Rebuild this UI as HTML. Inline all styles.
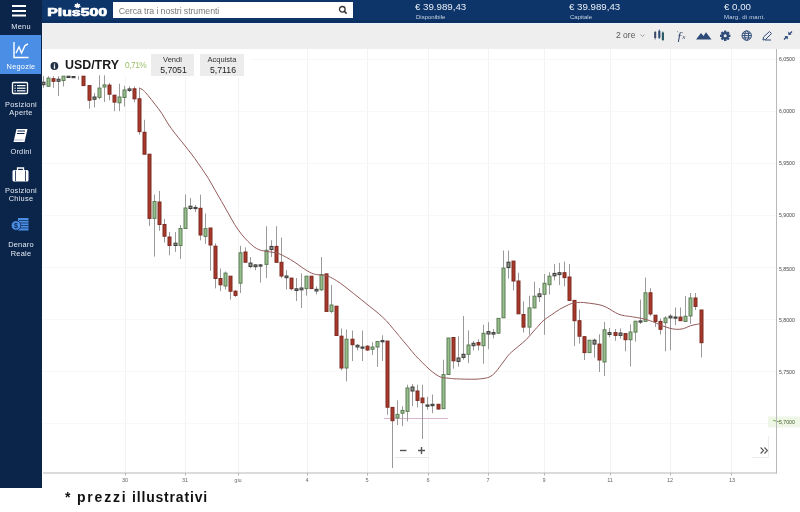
<!DOCTYPE html>
<html><head><meta charset="utf-8">
<style>
*{margin:0;padding:0;box-sizing:border-box}
html,body{width:800px;height:512px;overflow:hidden;background:#fff;font-family:"Liberation Sans",sans-serif;-webkit-font-smoothing:antialiased}
.abs,.sl,.amt,.amtl,.ylab,.xlab{will-change:transform}
.abs{position:absolute}
#side{left:0;top:0;width:42px;height:488px;background:#0b254a}
#side .menu{left:0;top:0;width:42px;height:35px;background:#0b2449}
#side .act{left:0;top:35px;width:41px;height:39px;background:#4b8ee6}
.sl{position:absolute;left:0;width:42px;text-align:center;color:#e4eaf3;font-size:7.4px;line-height:8px;letter-spacing:0.25px}
#top{left:42px;top:0;width:758px;height:23px;background:#0d3569;border-bottom:3px solid #0a2f60}
#search{left:113px;top:2px;width:240px;height:16px;background:#fff}
#search span{position:absolute;left:5.8px;top:3.5px;font-size:8.8px;color:#7a7a7a;letter-spacing:-0.1px}
.amt{position:absolute;color:#e8eef7;font-size:9.7px;line-height:10px}
.amtl{position:absolute;color:#c9d4e6;font-size:6px;line-height:6px}
#tool{left:42px;top:23px;width:758px;height:25.5px;background:#eeeeee;border-top:1px solid #eaf3fb}
.ylab{position:absolute;left:779px;font-size:5.2px;color:#444;line-height:6px}
.xlab{position:absolute;top:477px;font-size:5.5px;color:#666;line-height:6px;transform:translateX(-50%)}
</style></head><body>
<div id="side" class="abs">
  <div class="abs menu"></div>
  <div class="abs act"></div>
  <svg class="abs" style="left:0;top:0" width="42" height="270" viewBox="0 0 42 270">
    <g fill="#ffffff">
      <rect x="12" y="5" width="14" height="2"/>
      <rect x="12" y="10" width="14" height="2"/>
      <rect x="12" y="14.5" width="14" height="2"/>
    </g>
    <!-- chart icon -->
    <g stroke="#ffffff" fill="none" stroke-width="1.4">
      <path d="M14,42 V57.5 H28.5"/>
      <path d="M16,53 L19,47 L21.5,53 L25,45.5 L28,44"/>
    </g>
    <!-- positions icon -->
    <g stroke="#ffffff" fill="none" stroke-width="1.3">
      <rect x="12.5" y="82.5" width="15" height="11" rx="1"/>
    </g>
    <g fill="#ffffff">
      <rect x="14.5" y="85" width="1.2" height="1.2"/><rect x="17" y="85" width="8.5" height="1.2"/>
      <rect x="14.5" y="87.6" width="1.2" height="1.2"/><rect x="17" y="87.6" width="8.5" height="1.2"/>
      <rect x="14.5" y="90.2" width="1.2" height="1.2"/><rect x="17" y="90.2" width="8.5" height="1.2"/>
    </g>
    <!-- book icon -->
    <path d="M16.5,129 L27.5,129 L24.5,142 L13.5,142 Z" fill="#ffffff"/>
    <path d="M17.5,131 L25,131 M17,133.5 L24.5,133.5" stroke="#0b254a" stroke-width="1"/>
    <path d="M14,140 L23.5,140" stroke="#9aa6b8" stroke-width="0.8"/>
    <!-- briefcase -->
    <rect x="12.5" y="170" width="16" height="11.5" rx="1.5" fill="#ffffff"/>
    <path d="M17.5,170 V168 H23.5 V170" stroke="#ffffff" stroke-width="1.3" fill="none"/>
    <path d="M15.5,170.5 V181 M25.5,170.5 V181" stroke="#0b254a" stroke-width="0.8"/>
    <!-- money -->
    <rect x="18" y="218" width="10.5" height="12.5" fill="#4b8ee6"/>
    <g stroke="#0b254a" stroke-width="0.7">
      <path d="M19,220.5 H28.5 M19,223 H28.5 M19,225.5 H28.5 M19,228 H28.5"/>
    </g>
    <circle cx="16" cy="225.5" r="4.8" fill="#4b8ee6" stroke="#0b254a" stroke-width="0.8"/>
    <text x="16" y="228" font-size="7" font-weight="bold" fill="#0b254a" text-anchor="middle" font-family="Liberation Sans">$</text>
  </svg>
  <div class="sl" style="top:23px">Menu</div>
  <div class="sl" style="top:62.6px;color:#fff">Negozie</div>
  <div class="sl" style="top:100.6px">Posizioni</div>
  <div class="sl" style="top:108.6px">Aperte</div>
  <div class="sl" style="top:147.6px">Ordini</div>
  <div class="sl" style="top:186.6px">Posizioni</div>
  <div class="sl" style="top:194.6px">Chiuse</div>
  <div class="sl" style="top:240.6px">Denaro</div>
  <div class="sl" style="top:249.6px">Reale</div>
</div>

<div id="top" class="abs"></div>
<svg class="abs" style="left:0;top:0" width="112" height="22" viewBox="0 0 112 22">
  <text x="47.2" y="16.3" font-size="11.2" font-weight="bold" fill="#ffffff" font-family="Liberation Sans" textLength="60" lengthAdjust="spacingAndGlyphs" stroke="#ffffff" stroke-width="0.7">Plus500</text>
  <path d="M77.4,2.6 L78.4,4.2 L80.3,3.7 L79.6,5.4 L81.2,6.3 L79.2,6.9 L79,8.3 L77.4,7.4 L75.8,8.3 L75.6,6.9 L73.6,6.3 L75.2,5.4 L74.5,3.7 L76.4,4.2 Z" fill="#ffffff"/>
</svg>
<div id="search" class="abs"><span>Cerca tra i nostri strumenti</span>
  <svg class="abs" style="left:225px;top:3px" width="10" height="10" viewBox="0 0 10 10">
    <circle cx="4.3" cy="4.3" r="2.8" fill="none" stroke="#333" stroke-width="1.3"/>
    <path d="M6.3,6.3 L8.6,8.6" stroke="#333" stroke-width="1.6"/>
  </svg>
</div>
<div class="amt" style="left:415.3px;top:2.3px">€ 39.989,43</div>
<div class="amtl" style="left:415.5px;top:13.5px">Disponibile</div>
<div class="amt" style="left:569.3px;top:2.3px">€ 39.989,43</div>
<div class="amtl" style="left:569.5px;top:13.5px">Capitale</div>
<div class="amt" style="left:724px;top:2.3px">€ 0,00</div>
<div class="amtl" style="left:724px;top:13.5px;letter-spacing:0.2px">Marg. di mant.</div>

<div id="tool" class="abs"></div>
<div class="abs" style="left:616px;top:31px;font-size:8.5px;color:#555;line-height:9px">2 ore</div>
<svg class="abs" style="left:0;top:0" width="800" height="50" viewBox="0 0 800 50">
  <path d="M640.5,34.5 L642.5,36.5 L644.5,34.5" stroke="#888" fill="none" stroke-width="0.8"/>
  <g stroke-width="0.8">
    <line x1="655.2" y1="31" x2="655.2" y2="39.5" stroke="#4a5670"/>
    <rect x="654.2" y="32" width="2" height="6" fill="#3d4a66"/>
    <line x1="659.3" y1="29.5" x2="659.3" y2="39" stroke="#2d4a78"/>
    <rect x="658.3" y="30.8" width="2.1" height="7" fill="#2d4a78"/>
    <line x1="662.9" y1="31.5" x2="662.9" y2="41" stroke="#2c5d66"/>
    <rect x="661.8" y="32.5" width="2.2" height="7.5" fill="#2c5d66"/>
  </g>
  <text x="676.5" y="39.6" font-size="13" font-style="italic" font-family="Liberation Serif" fill="#34476a">ƒ</text>
  <text x="682.3" y="38.6" font-size="7" font-style="italic" font-family="Liberation Serif" fill="#34476a">x</text>
  <path d="M677.3,31 L677.8,32.3" stroke="#8a94a8" stroke-width="0.8"/>
  <path d="M696,39.5 L701,33 L703.5,36 L706,32.3 L711.5,39.5 Z" fill="#2d4a78"/>
  <g transform="translate(725.2,35.8)" fill="#2d4a78">
    <circle r="3.8"/>
    <g id="teeth">
      <rect x="-1.2" y="-5.2" width="2.4" height="2"/>
      <rect x="-1.2" y="3.2" width="2.4" height="2"/>
      <rect x="-5.2" y="-1.2" width="2" height="2.4"/>
      <rect x="3.2" y="-1.2" width="2" height="2.4"/>
    </g>
    <g transform="rotate(45)">
      <rect x="-1.2" y="-5.2" width="2.4" height="2"/>
      <rect x="-1.2" y="3.2" width="2.4" height="2"/>
      <rect x="-5.2" y="-1.2" width="2" height="2.4"/>
      <rect x="3.2" y="-1.2" width="2" height="2.4"/>
    </g>
    <circle r="1.5" fill="#eeeeee"/>
  </g>
  <g transform="translate(746.7,35.6)" fill="none" stroke="#2d4a78" stroke-width="1">
    <circle r="4.7"/>
    <ellipse rx="2" ry="4.7"/>
    <path d="M-4.7,0 H4.7 M-4,-2.3 H4 M-4,2.3 H4"/>
  </g>
  <g fill="none" stroke="#2d4a78" stroke-width="1">
    <path d="M763,40 L763.5,37 L769.5,31.5 L771.5,33.5 L765.5,39.5 Z"/>
    <path d="M765,40 H771"/>
  </g>
  <g stroke="#2d4a78" stroke-width="1.3" fill="#2d4a78">
    <path d="M784,39.5 L787,36.5" /><path d="M785,36.5 H787.5 V39" stroke-width="0" />
    <path d="M784.5,36.3 L787.7,36.3 L787.7,39.5 Z" stroke="none"/>
    <path d="M792,31.5 L789,34.5"/>
    <path d="M788.3,31.5 L788.3,34.7 L791.5,34.7 Z" stroke="none"/>
  </g>
</svg>

<!-- chart -->
<svg class="abs" style="left:0;top:0" width="800" height="512" viewBox="0 0 800 512">
<g stroke="#f3f3f3" stroke-width="1"><line x1="125.5" y1="49" x2="125.5" y2="473" /><line x1="185.5" y1="49" x2="185.5" y2="473" /><line x1="238.5" y1="49" x2="238.5" y2="473" /><line x1="307.5" y1="49" x2="307.5" y2="473" /><line x1="367.5" y1="49" x2="367.5" y2="473" /><line x1="428.5" y1="49" x2="428.5" y2="473" /><line x1="488.5" y1="49" x2="488.5" y2="473" /><line x1="544.5" y1="49" x2="544.5" y2="473" /><line x1="610.5" y1="49" x2="610.5" y2="473" /><line x1="670.5" y1="49" x2="670.5" y2="473" /><line x1="731.5" y1="49" x2="731.5" y2="473" /><line x1="42" y1="59.5" x2="776" y2="59.5" stroke="#f8f8f8"/><line x1="42" y1="111.5" x2="776" y2="111.5" stroke="#f8f8f8"/><line x1="42" y1="163.5" x2="776" y2="163.5" stroke="#f8f8f8"/><line x1="42" y1="215.5" x2="776" y2="215.5" stroke="#f8f8f8"/><line x1="42" y1="267.5" x2="776" y2="267.5" stroke="#f8f8f8"/><line x1="42" y1="319.5" x2="776" y2="319.5" stroke="#f8f8f8"/><line x1="42" y1="371.5" x2="776" y2="371.5" stroke="#f8f8f8"/><line x1="42" y1="423.5" x2="776" y2="423.5" stroke="#f8f8f8"/></g>
<rect x="42" y="49" width="208" height="28" fill="#ffffff"/>
<line x1="384" y1="418.5" x2="448" y2="418.5" stroke="#dab4ca" stroke-width="1"/>
<g stroke="#9a9a9a" stroke-width="1"><line x1="43.5" y1="76.2" x2="43.5" y2="87.8"/><line x1="48.5" y1="76.2" x2="48.5" y2="86.5"/><line x1="53.5" y1="76.2" x2="53.5" y2="87.8"/><line x1="58.5" y1="76.2" x2="58.5" y2="96.0"/><line x1="63.5" y1="76.0" x2="63.5" y2="86.5"/><line x1="68.5" y1="76.0" x2="68.5" y2="78.0"/><line x1="73.5" y1="76.0" x2="73.5" y2="78.0"/><line x1="78.5" y1="76.2" x2="78.5" y2="79.6"/><line x1="83.5" y1="76.2" x2="83.5" y2="85.6"/><line x1="89.5" y1="85.6" x2="89.5" y2="108.8"/><line x1="94.5" y1="93.0" x2="94.5" y2="107.5"/><line x1="99.5" y1="75.3" x2="99.5" y2="99.3"/><line x1="104.5" y1="75.3" x2="104.5" y2="102.0"/><line x1="109.5" y1="82.9" x2="109.5" y2="100.3"/><line x1="114.5" y1="95.0" x2="114.5" y2="111.2"/><line x1="119.5" y1="83.7" x2="119.5" y2="111.2"/><line x1="124.5" y1="85.8" x2="124.5" y2="106.5"/><line x1="129.5" y1="86.3" x2="129.5" y2="92.0"/><line x1="134.5" y1="86.5" x2="134.5" y2="102.1"/><line x1="139.5" y1="87.8" x2="139.5" y2="134.7"/><line x1="144.5" y1="119.8" x2="144.5" y2="154.2"/><line x1="149.5" y1="154.0" x2="149.5" y2="226.0"/><line x1="154.5" y1="194.5" x2="154.5" y2="256.6"/><line x1="159.5" y1="191.0" x2="159.5" y2="230.8"/><line x1="164.5" y1="219.0" x2="164.5" y2="242.5"/><line x1="169.5" y1="232.0" x2="169.5" y2="255.4"/><line x1="175.5" y1="232.0" x2="175.5" y2="251.9"/><line x1="180.5" y1="225.0" x2="180.5" y2="259.0"/><line x1="185.5" y1="194.5" x2="185.5" y2="228.5"/><line x1="190.5" y1="198.0" x2="190.5" y2="210.0"/><line x1="195.5" y1="205.0" x2="195.5" y2="212.0"/><line x1="200.5" y1="194.7" x2="200.5" y2="240.4"/><line x1="205.5" y1="213.4" x2="205.5" y2="243.9"/><line x1="210.5" y1="228.0" x2="210.5" y2="270.8"/><line x1="215.5" y1="243.4" x2="215.5" y2="288.4"/><line x1="220.5" y1="268.5" x2="220.5" y2="291.2"/><line x1="225.5" y1="271.5" x2="225.5" y2="289.5"/><line x1="230.5" y1="276.0" x2="230.5" y2="299.6"/><line x1="235.5" y1="290.0" x2="235.5" y2="297.0"/><line x1="240.5" y1="245.7" x2="240.5" y2="293.0"/><line x1="245.5" y1="247.4" x2="245.5" y2="262.5"/><line x1="250.5" y1="257.0" x2="250.5" y2="268.4"/><line x1="255.5" y1="264.0" x2="255.5" y2="270.2"/><line x1="260.5" y1="264.0" x2="260.5" y2="282.5"/><line x1="266.5" y1="226.2" x2="266.5" y2="278.1"/><line x1="271.5" y1="240.2" x2="271.5" y2="257.0"/><line x1="276.5" y1="226.2" x2="276.5" y2="262.3"/><line x1="281.5" y1="237.6" x2="281.5" y2="278.1"/><line x1="286.5" y1="270.2" x2="286.5" y2="289.5"/><line x1="291.5" y1="278.0" x2="291.5" y2="290.4"/><line x1="296.5" y1="278.0" x2="296.5" y2="301.0"/><line x1="301.5" y1="273.4" x2="301.5" y2="308.0"/><line x1="306.5" y1="276.0" x2="306.5" y2="295.7"/><line x1="311.5" y1="276.0" x2="311.5" y2="289.0"/><line x1="316.5" y1="286.3" x2="316.5" y2="294.5"/><line x1="321.5" y1="257.0" x2="321.5" y2="291.0"/><line x1="326.5" y1="273.5" x2="326.5" y2="311.5"/><line x1="331.5" y1="285.1" x2="331.5" y2="313.2"/><line x1="336.5" y1="306.0" x2="336.5" y2="336.0"/><line x1="341.5" y1="328.5" x2="341.5" y2="370.4"/><line x1="346.5" y1="329.5" x2="346.5" y2="381.4"/><line x1="352.5" y1="330.5" x2="352.5" y2="361.0"/><line x1="357.5" y1="344.0" x2="357.5" y2="350.4"/><line x1="362.5" y1="330.5" x2="362.5" y2="361.0"/><line x1="367.5" y1="345.0" x2="367.5" y2="351.0"/><line x1="372.5" y1="342.2" x2="372.5" y2="355.1"/><line x1="377.5" y1="341.0" x2="377.5" y2="366.8"/><line x1="382.5" y1="335.2" x2="382.5" y2="361.0"/><line x1="387.5" y1="341.0" x2="387.5" y2="414.8"/><line x1="392.5" y1="407.0" x2="392.5" y2="468.0"/><line x1="397.5" y1="400.4" x2="397.5" y2="425.0"/><line x1="402.5" y1="406.2" x2="402.5" y2="426.1"/><line x1="407.5" y1="384.7" x2="407.5" y2="421.4"/><line x1="412.5" y1="384.0" x2="412.5" y2="406.2"/><line x1="417.5" y1="384.7" x2="417.5" y2="407.4"/><line x1="422.5" y1="384.7" x2="422.5" y2="439.0"/><line x1="427.5" y1="396.8" x2="427.5" y2="409.7"/><line x1="432.5" y1="394.5" x2="432.5" y2="413.2"/><line x1="438.5" y1="404.0" x2="438.5" y2="410.0"/><line x1="443.5" y1="359.7" x2="443.5" y2="409.0"/><line x1="448.5" y1="338.0" x2="448.5" y2="375.0"/><line x1="453.5" y1="337.0" x2="453.5" y2="368.7"/><line x1="458.5" y1="336.3" x2="458.5" y2="366.7"/><line x1="463.5" y1="316.0" x2="463.5" y2="359.7"/><line x1="468.5" y1="330.4" x2="468.5" y2="363.2"/><line x1="473.5" y1="341.0" x2="473.5" y2="350.4"/><line x1="478.5" y1="339.3" x2="478.5" y2="350.4"/><line x1="483.5" y1="324.6" x2="483.5" y2="363.7"/><line x1="488.5" y1="322.2" x2="488.5" y2="349.2"/><line x1="493.5" y1="329.0" x2="493.5" y2="338.4"/><line x1="498.5" y1="318.0" x2="498.5" y2="334.0"/><line x1="503.5" y1="250.5" x2="503.5" y2="318.0"/><line x1="508.5" y1="250.5" x2="508.5" y2="278.6"/><line x1="513.5" y1="261.0" x2="513.5" y2="290.4"/><line x1="518.5" y1="272.8" x2="518.5" y2="314.0"/><line x1="523.5" y1="301.4" x2="523.5" y2="332.5"/><line x1="529.5" y1="295.7" x2="529.5" y2="334.8"/><line x1="534.5" y1="281.7" x2="534.5" y2="308.4"/><line x1="539.5" y1="288.0" x2="539.5" y2="302.0"/><line x1="544.5" y1="274.0" x2="544.5" y2="334.8"/><line x1="549.5" y1="272.2" x2="549.5" y2="294.5"/><line x1="554.5" y1="264.0" x2="554.5" y2="280.4"/><line x1="559.5" y1="262.9" x2="559.5" y2="285.1"/><line x1="564.5" y1="261.7" x2="564.5" y2="286.3"/><line x1="569.5" y1="264.0" x2="569.5" y2="300.5"/><line x1="574.5" y1="300.0" x2="574.5" y2="346.0"/><line x1="579.5" y1="309.7" x2="579.5" y2="343.7"/><line x1="584.5" y1="336.0" x2="584.5" y2="360.0"/><line x1="589.5" y1="340.0" x2="589.5" y2="353.0"/><line x1="594.5" y1="338.5" x2="594.5" y2="357.7"/><line x1="599.5" y1="334.3" x2="599.5" y2="372.0"/><line x1="604.5" y1="322.0" x2="604.5" y2="376.0"/><line x1="609.5" y1="328.0" x2="609.5" y2="337.3"/><line x1="615.5" y1="329.0" x2="615.5" y2="340.8"/><line x1="620.5" y1="328.4" x2="620.5" y2="338.5"/><line x1="625.5" y1="333.0" x2="625.5" y2="351.3"/><line x1="630.5" y1="324.4" x2="630.5" y2="366.6"/><line x1="635.5" y1="321.0" x2="635.5" y2="341.6"/><line x1="640.5" y1="299.6" x2="640.5" y2="324.0"/><line x1="645.5" y1="277.6" x2="645.5" y2="321.4"/><line x1="650.5" y1="288.1" x2="650.5" y2="316.2"/><line x1="655.5" y1="315.0" x2="655.5" y2="327.0"/><line x1="660.5" y1="318.3" x2="660.5" y2="334.6"/><line x1="665.5" y1="316.2" x2="665.5" y2="351.3"/><line x1="670.5" y1="314.1" x2="670.5" y2="350.4"/><line x1="675.5" y1="307.5" x2="675.5" y2="325.0"/><line x1="680.5" y1="307.5" x2="680.5" y2="321.0"/><line x1="685.5" y1="295.9" x2="685.5" y2="321.5"/><line x1="690.5" y1="293.0" x2="690.5" y2="324.0"/><line x1="695.5" y1="293.0" x2="695.5" y2="310.0"/><line x1="701.5" y1="310.0" x2="701.5" y2="357.5"/></g>
<g><rect x="42.0" y="82.2" width="3" height="2.5" fill="#8f9282" stroke="#3a3a3a" stroke-width="1"/><rect x="47.0" y="78.1" width="3" height="8.2" fill="#96bf8c" stroke="#5d7d57" stroke-width="1"/><rect x="52.0" y="78.7" width="3" height="2.6" fill="#a8382a" stroke="#7d2a20" stroke-width="1"/><rect x="57.0" y="79.2" width="3" height="2.1" fill="#8f9282" stroke="#3a3a3a" stroke-width="1"/><rect x="62.0" y="76.2" width="3" height="4.3" fill="#96bf8c" stroke="#5d7d57" stroke-width="1"/><rect x="67.0" y="76.2" width="3" height="1.3" fill="#8f9282" stroke="#3a3a3a" stroke-width="1"/><rect x="72.0" y="76.5" width="3" height="1.2" fill="#8f9282" stroke="#3a3a3a" stroke-width="1"/><rect x="82.0" y="76.2" width="3" height="9.4" fill="#a8382a" stroke="#7d2a20" stroke-width="1"/><rect x="88.0" y="85.6" width="3" height="14.6" fill="#a8382a" stroke="#7d2a20" stroke-width="1"/><rect x="93.0" y="97.0" width="3" height="2.3" fill="#8f9282" stroke="#3a3a3a" stroke-width="1"/><rect x="98.0" y="88.1" width="3" height="9.3" fill="#96bf8c" stroke="#5d7d57" stroke-width="1"/><rect x="103.0" y="84.9" width="3" height="2.1" fill="#96bf8c" stroke="#5d7d57" stroke-width="1"/><rect x="108.0" y="85.1" width="3" height="9.1" fill="#a8382a" stroke="#7d2a20" stroke-width="1"/><rect x="113.0" y="95.2" width="3" height="6.9" fill="#a8382a" stroke="#7d2a20" stroke-width="1"/><rect x="118.0" y="97.0" width="3" height="5.8" fill="#96bf8c" stroke="#5d7d57" stroke-width="1"/><rect x="123.0" y="90.0" width="3" height="7.5" fill="#96bf8c" stroke="#5d7d57" stroke-width="1"/><rect x="128.0" y="88.9" width="3" height="1.5" fill="#8f9282" stroke="#3a3a3a" stroke-width="1"/><rect x="133.0" y="88.8" width="3" height="10.0" fill="#a8382a" stroke="#7d2a20" stroke-width="1"/><rect x="138.0" y="98.8" width="3" height="32.8" fill="#a8382a" stroke="#7d2a20" stroke-width="1"/><rect x="143.0" y="132.3" width="3" height="21.9" fill="#a8382a" stroke="#7d2a20" stroke-width="1"/><rect x="148.0" y="154.2" width="3" height="64.2" fill="#a8382a" stroke="#7d2a20" stroke-width="1"/><rect x="153.0" y="201.5" width="3" height="16.9" fill="#96bf8c" stroke="#5d7d57" stroke-width="1"/><rect x="158.0" y="202.0" width="3" height="22.5" fill="#a8382a" stroke="#7d2a20" stroke-width="1"/><rect x="163.0" y="224.5" width="3" height="11.7" fill="#a8382a" stroke="#7d2a20" stroke-width="1"/><rect x="168.0" y="237.0" width="3" height="8.5" fill="#a8382a" stroke="#7d2a20" stroke-width="1"/><rect x="174.0" y="243.2" width="3" height="2.3" fill="#8f9282" stroke="#3a3a3a" stroke-width="1"/><rect x="179.0" y="228.5" width="3" height="17.0" fill="#96bf8c" stroke="#5d7d57" stroke-width="1"/><rect x="184.0" y="208.0" width="3" height="20.5" fill="#96bf8c" stroke="#5d7d57" stroke-width="1"/><rect x="189.0" y="206.2" width="3" height="2.3" fill="#8f9282" stroke="#3a3a3a" stroke-width="1"/><rect x="194.0" y="207.4" width="3" height="1.2" fill="#8f9282" stroke="#3a3a3a" stroke-width="1"/><rect x="199.0" y="208.3" width="3" height="26.7" fill="#a8382a" stroke="#7d2a20" stroke-width="1"/><rect x="204.0" y="228.6" width="3" height="7.8" fill="#96bf8c" stroke="#5d7d57" stroke-width="1"/><rect x="209.0" y="228.0" width="3" height="17.0" fill="#a8382a" stroke="#7d2a20" stroke-width="1"/><rect x="214.0" y="246.2" width="3" height="32.3" fill="#a8382a" stroke="#7d2a20" stroke-width="1"/><rect x="219.0" y="278.5" width="3" height="6.3" fill="#a8382a" stroke="#7d2a20" stroke-width="1"/><rect x="224.0" y="273.1" width="3" height="12.9" fill="#96bf8c" stroke="#5d7d57" stroke-width="1"/><rect x="229.0" y="276.2" width="3" height="15.0" fill="#a8382a" stroke="#7d2a20" stroke-width="1"/><rect x="234.0" y="291.2" width="3" height="4.2" fill="#a8382a" stroke="#7d2a20" stroke-width="1"/><rect x="239.0" y="252.8" width="3" height="30.4" fill="#96bf8c" stroke="#5d7d57" stroke-width="1"/><rect x="244.0" y="252.0" width="3" height="10.2" fill="#a8382a" stroke="#7d2a20" stroke-width="1"/><rect x="249.0" y="263.1" width="3" height="3.4" fill="#8f9282" stroke="#3a3a3a" stroke-width="1"/><rect x="254.0" y="264.9" width="3" height="1.8" fill="#8f9282" stroke="#3a3a3a" stroke-width="1"/><rect x="259.0" y="264.9" width="3" height="1.2" fill="#8f9282" stroke="#3a3a3a" stroke-width="1"/><rect x="265.0" y="250.3" width="3" height="14.1" fill="#96bf8c" stroke="#5d7d57" stroke-width="1"/><rect x="270.0" y="246.4" width="3" height="3.2" fill="#8f9282" stroke="#3a3a3a" stroke-width="1"/><rect x="275.0" y="246.4" width="3" height="15.9" fill="#a8382a" stroke="#7d2a20" stroke-width="1"/><rect x="280.0" y="262.3" width="3" height="13.7" fill="#a8382a" stroke="#7d2a20" stroke-width="1"/><rect x="285.0" y="276.0" width="3" height="1.7" fill="#8f9282" stroke="#3a3a3a" stroke-width="1"/><rect x="290.0" y="278.1" width="3" height="10.6" fill="#a8382a" stroke="#7d2a20" stroke-width="1"/><rect x="295.0" y="288.8" width="3" height="1.7" fill="#8f9282" stroke="#3a3a3a" stroke-width="1"/><rect x="300.0" y="288.0" width="3" height="1.8" fill="#8f9282" stroke="#3a3a3a" stroke-width="1"/><rect x="305.0" y="276.2" width="3" height="12.4" fill="#96bf8c" stroke="#5d7d57" stroke-width="1"/><rect x="310.0" y="276.2" width="3" height="12.4" fill="#a8382a" stroke="#7d2a20" stroke-width="1"/><rect x="315.0" y="289.3" width="3" height="1.7" fill="#8f9282" stroke="#3a3a3a" stroke-width="1"/><rect x="320.0" y="274.6" width="3" height="15.2" fill="#96bf8c" stroke="#5d7d57" stroke-width="1"/><rect x="325.0" y="273.9" width="3" height="37.5" fill="#a8382a" stroke="#7d2a20" stroke-width="1"/><rect x="330.0" y="305.0" width="3" height="6.4" fill="#96bf8c" stroke="#5d7d57" stroke-width="1"/><rect x="335.0" y="306.2" width="3" height="29.3" fill="#a8382a" stroke="#7d2a20" stroke-width="1"/><rect x="340.0" y="336.2" width="3" height="31.8" fill="#a8382a" stroke="#7d2a20" stroke-width="1"/><rect x="345.0" y="339.2" width="3" height="28.8" fill="#96bf8c" stroke="#5d7d57" stroke-width="1"/><rect x="351.0" y="339.2" width="3" height="5.5" fill="#a8382a" stroke="#7d2a20" stroke-width="1"/><rect x="356.0" y="345.3" width="3" height="1.7" fill="#8f9282" stroke="#3a3a3a" stroke-width="1"/><rect x="361.0" y="347.0" width="3" height="1.2" fill="#8f9282" stroke="#3a3a3a" stroke-width="1"/><rect x="366.0" y="346.2" width="3" height="3.8" fill="#a8382a" stroke="#7d2a20" stroke-width="1"/><rect x="371.0" y="347.0" width="3" height="2.3" fill="#96bf8c" stroke="#5d7d57" stroke-width="1"/><rect x="376.0" y="341.5" width="3" height="5.5" fill="#96bf8c" stroke="#5d7d57" stroke-width="1"/><rect x="381.0" y="340.6" width="3" height="1.2" fill="#8f9282" stroke="#3a3a3a" stroke-width="1"/><rect x="386.0" y="341.1" width="3" height="66.1" fill="#a8382a" stroke="#7d2a20" stroke-width="1"/><rect x="391.0" y="407.4" width="3" height="13.3" fill="#a8382a" stroke="#7d2a20" stroke-width="1"/><rect x="396.0" y="414.4" width="3" height="3.5" fill="#96bf8c" stroke="#5d7d57" stroke-width="1"/><rect x="401.0" y="410.4" width="3" height="2.8" fill="#96bf8c" stroke="#5d7d57" stroke-width="1"/><rect x="406.0" y="388.0" width="3" height="23.4" fill="#96bf8c" stroke="#5d7d57" stroke-width="1"/><rect x="411.0" y="387.0" width="3" height="4.0" fill="#8f9282" stroke="#3a3a3a" stroke-width="1"/><rect x="416.0" y="391.0" width="3" height="9.4" fill="#a8382a" stroke="#7d2a20" stroke-width="1"/><rect x="421.0" y="398.0" width="3" height="4.7" fill="#a8382a" stroke="#7d2a20" stroke-width="1"/><rect x="426.0" y="405.0" width="3" height="1.2" fill="#8f9282" stroke="#3a3a3a" stroke-width="1"/><rect x="431.0" y="404.3" width="3" height="1.4" fill="#8f9282" stroke="#3a3a3a" stroke-width="1"/><rect x="437.0" y="404.3" width="3" height="4.7" fill="#a8382a" stroke="#7d2a20" stroke-width="1"/><rect x="442.0" y="374.6" width="3" height="34.1" fill="#96bf8c" stroke="#5d7d57" stroke-width="1"/><rect x="447.0" y="338.0" width="3" height="36.5" fill="#96bf8c" stroke="#5d7d57" stroke-width="1"/><rect x="452.0" y="337.5" width="3" height="23.3" fill="#a8382a" stroke="#7d2a20" stroke-width="1"/><rect x="457.0" y="358.0" width="3" height="3.4" fill="#8f9282" stroke="#3a3a3a" stroke-width="1"/><rect x="462.0" y="354.3" width="3" height="3.1" fill="#8f9282" stroke="#3a3a3a" stroke-width="1"/><rect x="467.0" y="345.0" width="3" height="9.3" fill="#96bf8c" stroke="#5d7d57" stroke-width="1"/><rect x="472.0" y="343.3" width="3" height="2.4" fill="#8f9282" stroke="#3a3a3a" stroke-width="1"/><rect x="477.0" y="342.6" width="3" height="2.4" fill="#a8382a" stroke="#7d2a20" stroke-width="1"/><rect x="482.0" y="333.3" width="3" height="12.4" fill="#96bf8c" stroke="#5d7d57" stroke-width="1"/><rect x="487.0" y="331.6" width="3" height="2.4" fill="#8f9282" stroke="#3a3a3a" stroke-width="1"/><rect x="492.0" y="332.6" width="3" height="1.5" fill="#8f9282" stroke="#3a3a3a" stroke-width="1"/><rect x="497.0" y="318.4" width="3" height="14.8" fill="#96bf8c" stroke="#5d7d57" stroke-width="1"/><rect x="502.0" y="268.1" width="3" height="49.7" fill="#96bf8c" stroke="#5d7d57" stroke-width="1"/><rect x="507.0" y="262.2" width="3" height="5.4" fill="#8f9282" stroke="#3a3a3a" stroke-width="1"/><rect x="512.0" y="261.1" width="3" height="19.9" fill="#a8382a" stroke="#7d2a20" stroke-width="1"/><rect x="517.0" y="281.0" width="3" height="32.8" fill="#a8382a" stroke="#7d2a20" stroke-width="1"/><rect x="522.0" y="314.5" width="3" height="12.6" fill="#a8382a" stroke="#7d2a20" stroke-width="1"/><rect x="528.0" y="307.9" width="3" height="19.2" fill="#96bf8c" stroke="#5d7d57" stroke-width="1"/><rect x="533.0" y="296.2" width="3" height="11.7" fill="#96bf8c" stroke="#5d7d57" stroke-width="1"/><rect x="538.0" y="293.9" width="3" height="2.8" fill="#8f9282" stroke="#3a3a3a" stroke-width="1"/><rect x="543.0" y="283.3" width="3" height="11.0" fill="#96bf8c" stroke="#5d7d57" stroke-width="1"/><rect x="548.0" y="276.2" width="3" height="8.5" fill="#96bf8c" stroke="#5d7d57" stroke-width="1"/><rect x="553.0" y="273.4" width="3" height="2.4" fill="#8f9282" stroke="#3a3a3a" stroke-width="1"/><rect x="558.0" y="272.7" width="3" height="1.9" fill="#8f9282" stroke="#3a3a3a" stroke-width="1"/><rect x="563.0" y="272.7" width="3" height="4.9" fill="#a8382a" stroke="#7d2a20" stroke-width="1"/><rect x="568.0" y="277.0" width="3" height="23.4" fill="#a8382a" stroke="#7d2a20" stroke-width="1"/><rect x="573.0" y="300.4" width="3" height="20.3" fill="#a8382a" stroke="#7d2a20" stroke-width="1"/><rect x="578.0" y="320.7" width="3" height="15.5" fill="#a8382a" stroke="#7d2a20" stroke-width="1"/><rect x="583.0" y="336.7" width="3" height="15.9" fill="#a8382a" stroke="#7d2a20" stroke-width="1"/><rect x="588.0" y="340.2" width="3" height="12.4" fill="#96bf8c" stroke="#5d7d57" stroke-width="1"/><rect x="593.0" y="340.2" width="3" height="3.9" fill="#8f9282" stroke="#3a3a3a" stroke-width="1"/><rect x="598.0" y="344.1" width="3" height="15.9" fill="#a8382a" stroke="#7d2a20" stroke-width="1"/><rect x="603.0" y="329.8" width="3" height="32.2" fill="#96bf8c" stroke="#5d7d57" stroke-width="1"/><rect x="608.0" y="332.6" width="3" height="1.9" fill="#8f9282" stroke="#3a3a3a" stroke-width="1"/><rect x="614.0" y="332.6" width="3" height="2.8" fill="#a8382a" stroke="#7d2a20" stroke-width="1"/><rect x="619.0" y="333.0" width="3" height="2.4" fill="#8f9282" stroke="#3a3a3a" stroke-width="1"/><rect x="624.0" y="333.6" width="3" height="6.1" fill="#a8382a" stroke="#7d2a20" stroke-width="1"/><rect x="629.0" y="332.0" width="3" height="7.7" fill="#96bf8c" stroke="#5d7d57" stroke-width="1"/><rect x="634.0" y="321.2" width="3" height="10.9" fill="#96bf8c" stroke="#5d7d57" stroke-width="1"/><rect x="639.0" y="320.9" width="3" height="1.2" fill="#8f9282" stroke="#3a3a3a" stroke-width="1"/><rect x="644.0" y="292.8" width="3" height="28.6" fill="#96bf8c" stroke="#5d7d57" stroke-width="1"/><rect x="649.0" y="292.8" width="3" height="21.2" fill="#a8382a" stroke="#7d2a20" stroke-width="1"/><rect x="654.0" y="315.2" width="3" height="6.2" fill="#a8382a" stroke="#7d2a20" stroke-width="1"/><rect x="659.0" y="321.4" width="3" height="7.9" fill="#a8382a" stroke="#7d2a20" stroke-width="1"/><rect x="664.0" y="318.0" width="3" height="4.7" fill="#96bf8c" stroke="#5d7d57" stroke-width="1"/><rect x="669.0" y="316.2" width="3" height="1.7" fill="#8f9282" stroke="#3a3a3a" stroke-width="1"/><rect x="674.0" y="317.0" width="3" height="1.2" fill="#8f9282" stroke="#3a3a3a" stroke-width="1"/><rect x="679.0" y="317.1" width="3" height="3.6" fill="#a8382a" stroke="#7d2a20" stroke-width="1"/><rect x="684.0" y="316.2" width="3" height="5.2" fill="#96bf8c" stroke="#5d7d57" stroke-width="1"/><rect x="689.0" y="298.0" width="3" height="18.0" fill="#96bf8c" stroke="#5d7d57" stroke-width="1"/><rect x="694.0" y="298.0" width="3" height="8.4" fill="#a8382a" stroke="#7d2a20" stroke-width="1"/><rect x="700.0" y="310.0" width="3" height="32.7" fill="#a8382a" stroke="#7d2a20" stroke-width="1"/></g>
<path d="M139.10,88.00 C139.80,88.38 141.77,89.00 143.30,90.30 C144.83,91.60 146.37,93.50 148.30,95.80 C150.23,98.10 152.68,101.20 154.90,104.10 C157.12,107.00 159.38,109.88 161.60,113.20 C163.82,116.52 166.00,120.68 168.20,124.00 C170.40,127.32 172.58,130.20 174.80,133.10 C177.02,136.00 179.28,138.63 181.50,141.40 C183.72,144.17 185.88,146.85 188.10,149.70 C190.32,152.55 192.55,155.40 194.80,158.50 C197.05,161.60 199.35,165.00 201.60,168.30 C203.85,171.60 206.08,174.70 208.30,178.30 C210.52,181.90 212.68,186.03 214.90,189.90 C217.12,193.77 219.38,197.63 221.60,201.50 C223.82,205.37 226.00,209.23 228.20,213.10 C230.40,216.97 232.58,221.18 234.80,224.70 C237.02,228.22 239.28,231.40 241.50,234.20 C243.72,237.00 245.85,239.28 248.10,241.50 C250.35,243.72 252.75,246.00 255.00,247.50 C257.25,249.00 259.12,249.77 261.60,250.50 C264.08,251.23 267.13,251.42 269.90,251.90 C272.67,252.38 275.43,252.48 278.20,253.40 C280.97,254.32 283.73,255.92 286.50,257.40 C289.27,258.88 292.03,260.50 294.80,262.30 C297.57,264.10 300.33,266.40 303.10,268.20 C305.87,270.00 308.92,272.00 311.40,273.10 C313.88,274.20 315.73,274.43 318.00,274.80 C320.27,275.17 323.15,275.00 325.00,275.30 C326.85,275.60 327.17,275.70 329.10,276.60 C331.03,277.50 333.97,279.03 336.60,280.70 C339.23,282.37 342.13,284.52 344.90,286.60 C347.67,288.68 350.43,291.00 353.20,293.20 C355.97,295.40 358.73,297.58 361.50,299.80 C364.27,302.02 367.03,304.28 369.80,306.50 C372.57,308.72 375.33,310.72 378.10,313.10 C380.87,315.48 383.92,318.22 386.40,320.80 C388.88,323.38 390.93,326.15 393.00,328.60 C395.07,331.05 397.33,333.73 398.80,335.50 C400.27,337.27 400.15,337.22 401.80,339.20 C403.45,341.18 406.42,344.67 408.70,347.40 C410.98,350.13 413.22,353.07 415.50,355.60 C417.78,358.13 420.12,360.33 422.40,362.60 C424.68,364.87 426.93,367.22 429.20,369.20 C431.47,371.18 433.95,373.13 436.00,374.50 C438.05,375.87 439.22,376.77 441.50,377.40 C443.78,378.03 447.18,378.05 449.70,378.30 C452.22,378.55 452.38,378.75 456.60,378.90 C460.82,379.05 470.27,379.32 475.00,379.20 C479.73,379.08 482.50,378.62 485.00,378.20 C487.50,377.78 488.33,377.60 490.00,376.70 C491.67,375.80 493.33,374.52 495.00,372.80 C496.67,371.08 498.35,368.57 500.00,366.40 C501.65,364.23 503.25,361.93 504.90,359.80 C506.55,357.67 507.68,355.82 509.90,353.60 C512.12,351.38 515.43,348.88 518.20,346.50 C520.97,344.12 523.73,342.07 526.50,339.30 C529.27,336.53 532.03,332.97 534.80,329.90 C537.57,326.83 540.33,323.40 543.10,320.90 C545.87,318.40 548.63,316.83 551.40,314.90 C554.17,312.97 557.28,310.77 559.70,309.30 C562.12,307.83 563.90,307.08 565.90,306.10 C567.90,305.12 569.75,304.00 571.70,303.40 C573.65,302.80 575.65,302.65 577.60,302.50 C579.55,302.35 581.45,302.38 583.40,302.50 C585.35,302.62 587.35,302.95 589.30,303.20 C591.25,303.45 593.15,303.67 595.10,304.00 C597.05,304.33 599.05,304.62 601.00,305.20 C602.95,305.78 604.85,306.53 606.80,307.50 C608.75,308.47 610.75,309.88 612.70,311.00 C614.65,312.12 616.55,313.42 618.50,314.20 C620.45,314.98 622.43,315.32 624.40,315.70 C626.37,316.08 627.70,316.10 630.30,316.50 C632.90,316.90 637.38,317.60 640.00,318.10 C642.62,318.60 643.87,318.90 646.00,319.50 C648.13,320.10 650.30,320.75 652.80,321.70 C655.30,322.65 658.27,324.13 661.00,325.20 C663.73,326.27 666.65,327.42 669.20,328.10 C671.75,328.78 673.95,329.20 676.30,329.30 C678.65,329.40 680.97,329.28 683.30,328.70 C685.63,328.12 687.95,326.55 690.30,325.80 C692.65,325.05 695.45,324.53 697.40,324.20 C699.35,323.87 701.23,323.87 702.00,323.80" fill="none" stroke="#925a5a" stroke-width="1"/>
  <rect x="768" y="416.5" width="32" height="11" fill="#eef6e6"/>
  <path d="M773,420.3 L779.5,422" stroke="#7fae5a" stroke-width="1.1"/>
  <line x1="776.5" y1="49" x2="776.5" y2="473.5" stroke="#b8b8b8" stroke-width="1"/>
  <line x1="43" y1="473" x2="777" y2="473" stroke="#b6b6b6" stroke-width="1"/>
  <g stroke="#b6b6b6" stroke-width="1"><line x1="125.5" y1="473" x2="125.5" y2="475.5"/><line x1="185.5" y1="473" x2="185.5" y2="475.5"/><line x1="238.5" y1="473" x2="238.5" y2="475.5"/><line x1="307.5" y1="473" x2="307.5" y2="475.5"/><line x1="367.5" y1="473" x2="367.5" y2="475.5"/><line x1="428.5" y1="473" x2="428.5" y2="475.5"/><line x1="488.5" y1="473" x2="488.5" y2="475.5"/><line x1="544.5" y1="473" x2="544.5" y2="475.5"/><line x1="610.5" y1="473" x2="610.5" y2="475.5"/><line x1="670.5" y1="473" x2="670.5" y2="475.5"/><line x1="731.5" y1="473" x2="731.5" y2="475.5"/></g>
</svg>

<!-- header -->
<svg class="abs" style="left:50px;top:61.5px" width="9" height="9" viewBox="0 0 9 9">
  <circle cx="4.4" cy="4" r="3.9" fill="#1f2f45"/>
  <rect x="3.8" y="3.3" width="1.3" height="3.4" fill="#fff"/>
  <rect x="3.8" y="1.6" width="1.3" height="1.1" fill="#fff"/>
</svg>
<div class="abs" style="left:64.5px;top:58px;font-size:12.4px;font-weight:bold;color:#1a1a1a;line-height:14px">USD/TRY</div>
<div class="abs" style="left:124.5px;top:60.5px;font-size:8.4px;color:#9cbf6a;line-height:9px;letter-spacing:-0.5px">0,71%</div>
<div class="abs" style="left:151px;top:54px;width:43px;height:22px;background:#ececec"></div>
<div class="abs" style="left:200px;top:54px;width:44px;height:22px;background:#ececec"></div>
<div class="abs" style="left:151px;top:56px;width:43px;text-align:center;font-size:7.5px;color:#333;line-height:8px">Vendi</div>
<div class="abs" style="left:151.5px;top:65.5px;width:43px;text-align:center;font-size:8.7px;color:#222;line-height:9px">5,7051</div>
<div class="abs" style="left:200px;top:56px;width:44px;text-align:center;font-size:7.5px;color:#333;line-height:8px">Acquista</div>
<div class="abs" style="left:200.5px;top:65.5px;width:44px;text-align:center;font-size:8.7px;color:#222;line-height:9px">5,7116</div>

<!-- y labels -->
<div class="ylab" style="top:56.2px">6,0500</div>
<div class="ylab" style="top:108.2px">6,0000</div>
<div class="ylab" style="top:160.2px">5,9500</div>
<div class="ylab" style="top:212.2px">5,9000</div>
<div class="ylab" style="top:265.6px">5,8500</div>
<div class="ylab" style="top:316.7px">5,8000</div>
<div class="ylab" style="top:368.7px">5,7500</div>
<div class="ylab" style="top:419.3px;color:#3f5a2c">5,7000</div>

<!-- x labels -->
<div class="xlab" style="left:125px">30</div>
<div class="xlab" style="left:184.5px">31</div>
<div class="xlab" style="left:237.6px">giu</div>
<div class="xlab" style="left:306.9px">4</div>
<div class="xlab" style="left:366.8px">5</div>
<div class="xlab" style="left:427.9px">6</div>
<div class="xlab" style="left:487.8px">7</div>
<div class="xlab" style="left:544.2px">9</div>
<div class="xlab" style="left:610.3px">11</div>
<div class="xlab" style="left:670.4px">12</div>
<div class="xlab" style="left:731.5px">13</div>

<!-- zoom controls -->
<svg class="abs" style="left:0;top:0" width="800" height="512" viewBox="0 0 800 512">
  <path d="M395,457.5 H429" stroke="#e8e8e8" stroke-width="1" fill="none"/>
  <path d="M400,450.5 H406.5" stroke="#555" stroke-width="1.4"/>
  <path d="M418,450.5 H425 M421.5,447 V454" stroke="#555" stroke-width="1.4"/>
  <path d="M760.6,447.5 L763.6,450.5 L760.6,453.5 M764.4,447.5 L767.4,450.5 L764.4,453.5" stroke="#555" stroke-width="1.1" fill="none"/>
  <path d="M752,457.5 H768.5 V436" stroke="#ececec" stroke-width="1" fill="none"/>
</svg>

<div class="abs" style="left:65px;top:489px;font-size:14px;font-weight:bold;color:#111;line-height:16px">*</div>
<div class="abs" style="left:77.3px;top:489px;font-size:14px;font-weight:bold;color:#111;letter-spacing:1.8px;line-height:16px">prezzi</div>
<div class="abs" style="left:131.6px;top:489px;font-size:14px;font-weight:bold;color:#111;letter-spacing:0.82px;line-height:16px">illustrativi</div>
</body></html>
